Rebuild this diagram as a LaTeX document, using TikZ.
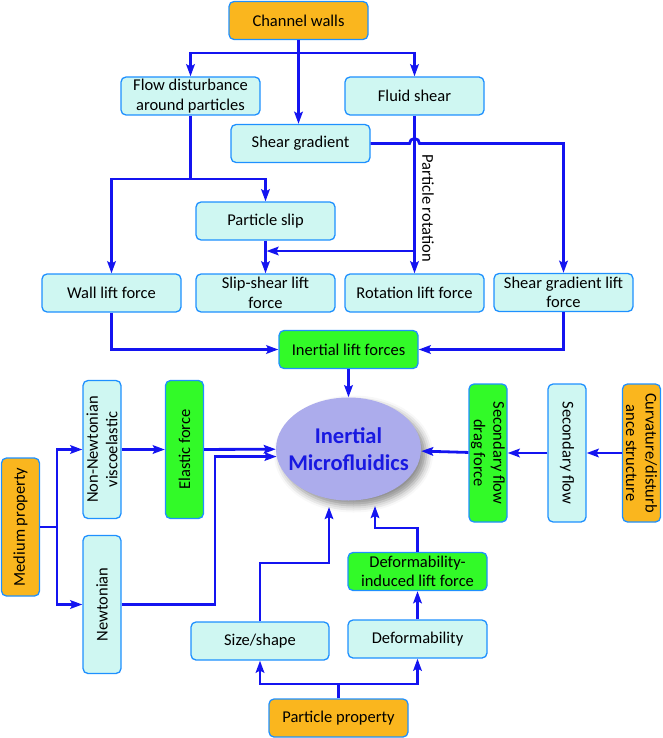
\documentclass[tikz,border=0pt]{standalone}
\usepackage{fontspec}
\setmainfont{Carlito}
\usepackage{tikz}
\usetikzlibrary{shapes.geometric, arrows.meta, positioning, shadows.blur, calc}
\definecolor{edgeblue}{RGB}{30,144,255}
\definecolor{aquafill}{RGB}{207,247,242}
\definecolor{amberfill}{RGB}{250,182,30}
\definecolor{forcegreen}{RGB}{50,250,40}
\definecolor{linkblue}{RGB}{20,20,240}
\definecolor{lavender}{RGB}{172,172,236}
\definecolor{titleblue}{RGB}{25,25,225}

\begin{document}
\begin{tikzpicture}[x=1pt, y=-1pt,
  cause/.style={rectangle, rounded corners=5pt, draw=edgeblue, line width=1.3pt, fill=aquafill,
               minimum width=139pt, minimum height=38pt, inner sep=1pt, align=center},
  source/.style={cause, fill=amberfill},
  force/.style={cause, fill=forcegreen},
  upward/.style={rotate=90, minimum width=138pt, minimum height=38pt},
  downward/.style={rotate=-90, minimum width=138pt, minimum height=38pt},
  arrow/.style={-{Stealth[length=12pt, width=8.5pt, inset=2pt]}, linkblue, line width=2.8pt},
  link/.style={linkblue, line width=2.8pt},
  font=\fontsize{16.5}{19.5}\selectfont,
]
  \useasboundingbox (0,0) rectangle (662,738);

  % upper part: lift forces
  \node[source] (walls) at (298.5,20.5) {Channel walls};
  \node[cause] (flow) at (190.5,96) {Flow disturbance\\around particles};
  \node[cause] (shear) at (414.5,96) {Fluid shear};
  \node[cause] (grad) at (300.5,143.5) {Shear gradient};
  \node[cause] (slip) at (265.5,221) {Particle slip};
  \node[cause] (wall) at (111.5,293) {Wall lift force};
  \node[cause] (slipshear) at (265.5,293) {Slip-shear lift\\force};
  \node[cause] (rot) at (414.5,293) {Rotation lift force};
  \node[cause] (gradlift) at (563.5,292.5) {Shear gradient lift\\force};
  \node[force] (inertial) at (348.5,349.5) {Inertial lift forces};
  \node[rotate=-90] (rotlabel) at (428,208) {Particle rotation};

  % centre
  \node[ellipse, fill=lavender, minimum width=145pt, minimum height=103pt, inner xsep=-16pt, inner ysep=0pt,
        blur shadow={shadow xshift=5pt, shadow yshift=-5pt, shadow blur radius=7pt, shadow opacity=45},
        align=center, text=titleblue, font=\fontsize{22.5}{27}\selectfont\bfseries]
        (micro) at (348.5,449) {Inertial\\Microfluidics};

  % left: medium
  \node[source, upward] (medium) at (20.5,527) {Medium property};
  \node[cause, upward] (nonnewt) at (102,449.5) {Non-Newtonian\\viscoelastic};
  \node[force, upward] (elastic) at (184.5,449.5) {Elastic force};
  \node[cause, upward] (newt) at (102,604.5) {Newtonian};

  % right: channel geometry
  \node[force, downward] (drag) at (488,453) {Secondary flow\\drag force};
  \node[cause, downward] (secflow) at (567,453) {Secondary flow};
  \node[source, downward] (curv) at (641.5,453) {Curvature/disturb\\ance structure};

  % bottom: particle
  \node[cause, minimum width=138pt] (size) at (260,641) {Size/shape};
  \node[force] (deflift) at (417.5,571.5) {Deformability-\\induced lift force};
  \node[cause] (deform) at (417.5,639) {Deformability};
  \node[source] (particle) at (338.5,718) {Particle property};

  \coordinate (wsplit) at (298.5,53);
  \coordinate (fsplit) at (190.5,179);
  \coordinate (rsplit) at (414.5,251);
  \coordinate (msplit) at (57,527);
  \coordinate (psplit) at (338.5,684);

  \draw[arrow] (walls) -- (walls |- grad.north);
  \draw[arrow] (wsplit) -| (flow);
  \draw[arrow] (wsplit) -| (shear);
  \draw[link] (flow) -- (fsplit);
  \draw[arrow] (fsplit) -| (wall);
  \draw[arrow] (fsplit) -| (slip);
  \draw[arrow, shorten >=1pt] (rsplit) -- (slip |- rsplit);
  \draw[arrow] (grad.east) -- (409.5,143.5) arc[start angle=180, end angle=0, radius=5pt] -| (gradlift.north);
  \draw[arrow] (wall) |- (inertial);
  \draw[arrow] (gradlift) |- (inertial);

  \draw[link] (medium) -- (msplit);
  \draw[arrow] (msplit) |- (nonnewt);
  \draw[arrow] (msplit) |- (newt);
  \draw[arrow] (newt.south) -- (215,604.5) |- (micro.186);

  \draw[arrow, shorten >=4pt] (size.north) |- (329,563) -- (329,503);
  \draw[arrow] (deflift.north) |- (375,528) -- (375,506);
  \draw[link] (particle) -- (psplit);
  \draw[arrow] (psplit) -| (size);
  \draw[arrow] (psplit) -| (deform);

  \foreach \from/\to in {slip/slipshear, shear/rot, inertial/micro, deform/deflift,
                         nonnewt/elastic, elastic/micro, curv/secflow, secflow/drag, drag/micro}
    \draw[arrow] (\from) -- (\to);
\end{tikzpicture}
\end{document}
